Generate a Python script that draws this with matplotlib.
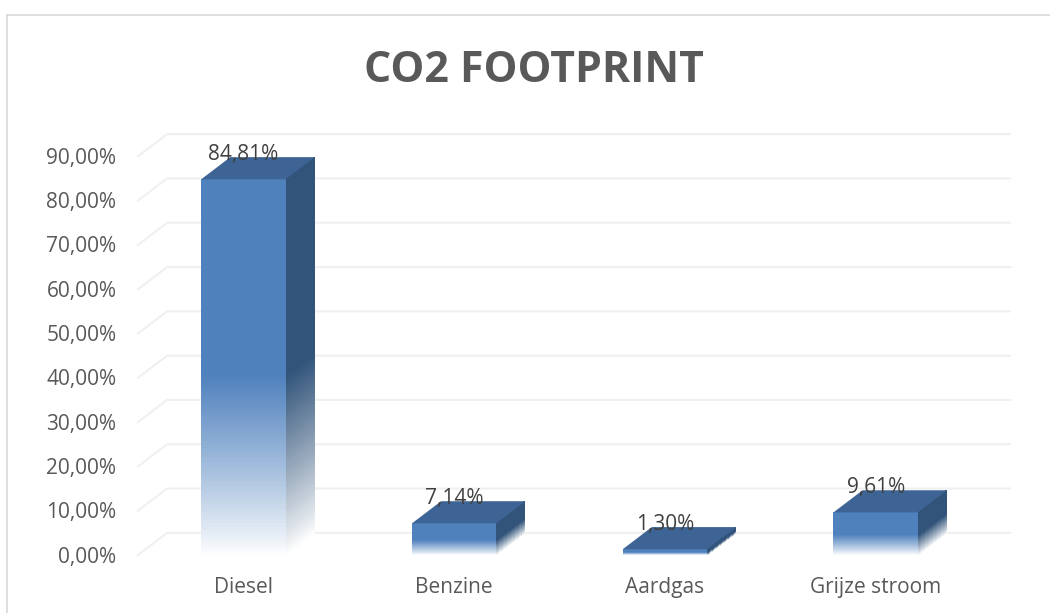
import numpy as np
import matplotlib
matplotlib.use("Agg")
import matplotlib.pyplot as plt
from matplotlib.transforms import ScaledTranslation

categories = ["Diesel", "Benzine", "Aardgas", "Grijze stroom"]
values = [84.81, 7.14, 1.30, 9.61]
value_labels = ["84,81%", "7,14%", "1,30%", "9,61%"]
y_ticks = [0, 10, 20, 30, 40, 50, 60, 70, 80, 90]
y_labels = ["0,00%", "10,00%", "20,00%", "30,00%", "40,00%", "50,00%", "60,00%", "70,00%", "80,00%", "90,00%"]

plt.rcParams["font.family"] = ["Open Sans", "DejaVu Sans"]

W, H = 1050, 613
fig = plt.figure(figsize=(W / 100, H / 100), dpi=100)
fig.patch.set_facecolor("white")
ax = fig.add_axes([138 / W, 1 - 555 / H, 843 / W, 398.7 / H])
ax.set_xlim(-0.5, 3.5)
ax.set_ylim(0, 90)
ax.patch.set_visible(False)
for s in ax.spines.values():
    s.set_visible(False)

# chart border, only left and top show
for xs, ys in [([6.5, 6.5], [613, 14.5]), ([6.5, 1050], [14.5, 14.5])]:
    fig.add_artist(plt.Line2D(np.array(xs) / W, 1 - np.array(ys) / H, color="#d9d9d9", lw=1.2))

# fake 3d depth, in data units
dx = 0.138
dy = 5.0
bar_w = 0.4

front_col = np.array([0x4f, 0x81, 0xbd]) / 255
side_col = np.array([0x32, 0x54, 0x7a]) / 255
top_col = "#3d6495"

# floor lines and back wall lines
for t in y_ticks:
    ax.plot([-0.5, -0.5 + dx, 3.5 + dx], [t, t + dy, t + dy], color="#f0f0f0", lw=1.5,
            clip_on=False, zorder=1, solid_joinstyle="round")


def faded(col, v, n=120):
    # colour goes to white over the lower part of the bar
    ys = np.linspace(0, 1, n)
    a = np.clip(ys / 0.48, 0, 1)
    a = a ** 0.9
    mids = (a[:-1] + a[1:]) / 2
    rgba = np.ones((n - 1, 1, 4))
    rgba[:, 0, :3] = 1 - (1 - col) * mids[:, None]
    return ys * v, rgba


for i, v in enumerate(values):
    x0 = i - bar_w / 2
    x1 = i + bar_w / 2
    ys, front = faded(front_col, v)
    _, side = faded(side_col, v)
    XF = np.array([[x0, x1]] * len(ys))
    YF = np.column_stack([ys, ys])
    ax.pcolormesh(XF, YF, front, shading="flat", clip_on=False, zorder=3, antialiased=False, linewidth=0)
    XS = np.array([[x1, x1 + dx]] * len(ys))
    YS = np.column_stack([ys, ys + dy])
    ax.pcolormesh(XS, YS, side, shading="flat", clip_on=False, zorder=3, antialiased=False, linewidth=0)
    ax.fill([x0, x1, x1 + dx, x0 + dx], [v, v, v + dy, v + dy], color=top_col, lw=0, clip_on=False, zorder=4)
    ax.annotate(value_labels[i], (i, v), xytext=(0, 18), textcoords="offset points", ha="center", va="center",
                fontsize=15, color="#404040", zorder=5, annotation_clip=False)

ax.set_xticks(range(len(categories)))
ax.set_xticklabels(categories)
ax.set_yticks(y_ticks)
ax.set_yticklabels(y_labels)
ax.tick_params(axis="x", length=0, pad=16, labelsize=15, labelcolor="#595959")
ax.tick_params(axis="y", length=0, pad=15.5, labelsize=15, labelcolor="#595959")
# nudge the y labels down a little
for lab in ax.get_yticklabels():
    lab.set_verticalalignment("center")
    lab.set_transform(lab.get_transform() + ScaledTranslation(0, -2 / 100, fig.dpi_scale_trans))

fig.text(533.5 / W, 1 - 70 / H, "CO2 FOOTPRINT", ha="center", va="center", fontsize=30.8,
         fontweight="bold", color="#595959")

fig.savefig("out.png", dpi=100)
